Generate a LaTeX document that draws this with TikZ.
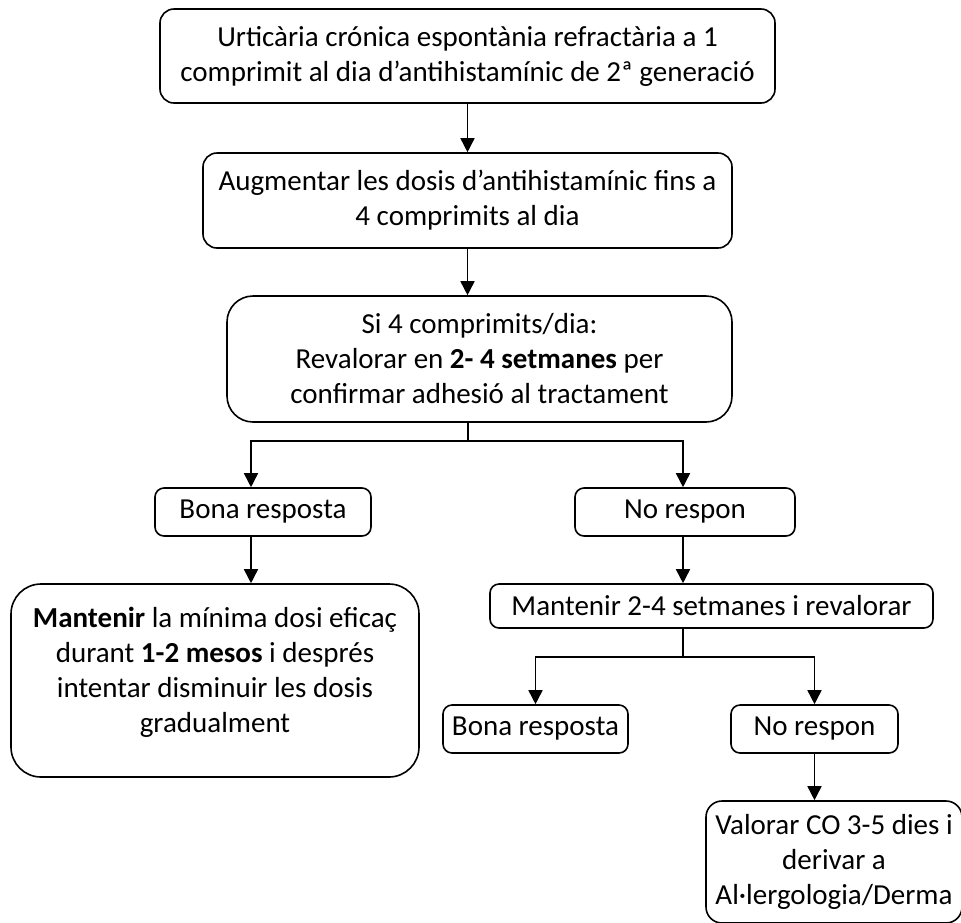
\documentclass[tikz,border=0pt]{standalone}
\usepackage{fontspec}
\setmainfont{Carlito}
\usetikzlibrary{arrows.meta}
\begin{document}
\begin{tikzpicture}[x=1pt,y=-1pt,
  every node/.style={font=\fontsize{29}{35}\selectfont},
  box/.style={draw=black, line width=1.6pt, rounded corners=14pt, align=center, inner sep=0pt},
  line/.style={draw=black, line width=1.6pt},
  arr/.style={line, -{Triangle[length=14pt,width=14pt]}}]
\useasboundingbox (0,0) rectangle (961,922);
\clip (0,0) rectangle (961,922);
\fill[white] (0,0) rectangle (961,922);

\node[box, minimum width=615, minimum height=94] (b1) at (467.5,56)
  {Urticària crónica espontània refractària a 1\\comprimit al dia d’antihistamínic de 2ª generació};
\node[box, minimum width=529, minimum height=95] (b2) at (467.5,200.5)
  {Augmentar les dosis d’antihistamínic fins a\\4 comprimits al dia};
\node[box, rounded corners=26pt, minimum width=505, minimum height=126] (b3) at (479.5,359)
  {Si 4 comprimits/dia:\\Revalorar en \textbf{2- 4 setmanes} per\\confirmar adhesió al tractament};
\node[box, rounded corners=9pt, minimum width=216, minimum height=48] (br1) at (263,512) {Bona resposta};
\node[box, rounded corners=9pt, minimum width=220, minimum height=48] (nr1) at (685,512) {No respon};
\node[box, rounded corners=30pt, minimum width=408, minimum height=193] (m) at (215,680.5)
  {\textbf{Mantenir} la mínima dosi eficaç\\durant \textbf{1-2 mesos} i després\\intentar disminuir les dosis\\gradualment\\[-14pt]\mbox{}};
\node[box, rounded corners=9pt, minimum width=443, minimum height=44] (m2) at (711.5,606)
  {Mantenir 2-4 setmanes i revalorar};
\node[box, rounded corners=9pt, minimum width=185, minimum height=48] (br2) at (535.5,729) {Bona resposta};
\node[box, rounded corners=9pt, minimum width=167, minimum height=48] (nr2) at (814.5,729) {No respon};
\node[box, rounded corners=16pt, minimum width=256, minimum height=122] (v) at (834,862)
  {Valorar CO 3-5 dies i\\derivar a\\Al·lergologia/Derma};

\draw[arr] (b1.south) -- (b2.north);
\draw[arr] (b2.south) -- (b2.south |- b3.north);

\coordinate (j1) at (468,441);
\coordinate (cl) at (251,441);
\coordinate (cr) at (683,441);
\draw[line] (b3.south -| j1) -- (j1);
\draw[arr] (j1) -- (cl) -- (cl |- br1.north);
\draw[arr] (j1) -- (cr) -- (cr |- nr1.north);
\draw[arr] (br1.south -| cl) -- (cl |- m.north);
\draw[arr] (nr1.south -| cr) -- (cr |- m2.north);

\coordinate (j2) at (683,657);
\coordinate (cl2) at (535.5,657);
\coordinate (cr2) at (814.5,657);
\draw[line] (m2.south -| j2) -- (j2);
\draw[arr] (j2) -- (cl2) -- (br2.north);
\draw[arr] (j2) -- (cr2) -- (nr2.north);
\draw[arr] (nr2.south) -- (nr2.south |- v.north);
\end{tikzpicture}
\end{document}
